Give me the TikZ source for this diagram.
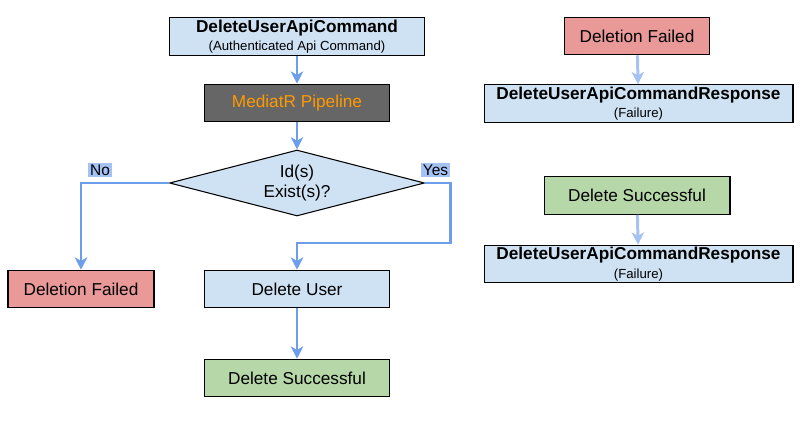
\documentclass[tikz,border=0pt]{standalone}
\usepackage{fontspec}
\setmainfont{Liberation Sans}
\usetikzlibrary{shapes.geometric,arrows.meta,positioning}
\definecolor{cmdblue}{HTML}{CFE2F3}
\definecolor{failred}{HTML}{EA9999}
\definecolor{okgreen}{HTML}{B6D7A8}
\definecolor{flowblue}{HTML}{6D9EEB}
\definecolor{paleblue}{HTML}{A4C2F4}
\definecolor{pipegray}{HTML}{666666}
\definecolor{pipeorange}{HTML}{FF9900}
\tikzset{
	box/.style={draw=black,line width=0.6pt,minimum height=0.75cm,inner sep=1pt,align=center,font=\fontsize{9.8}{11.5}\selectfont},
	cmdbox/.style={box,fill=cmdblue},
	failbox/.style={box,fill=failred},
	okbox/.style={box,fill=okgreen},
	pipebox/.style={box,fill=pipegray,text=pipeorange},
	decision/.style={diamond,aspect=3.86,draw=black,line width=0.6pt,fill=cmdblue,inner sep=0pt,minimum width=5.1cm,minimum height=1.32cm,align=center,font=\fontsize{9.8}{11.5}\selectfont},
	flow/.style={-{Stealth[length=7pt,width=7pt,inset=2pt]},color=flowblue,line width=1.7pt},
	paleflow/.style={-{Stealth[length=7pt,width=7pt,inset=2pt]},color=paleblue,line width=1.7pt},
	branch/.style={fill=paleblue,inner sep=1pt,font=\fontsize{8.8}{10}\selectfont}
}
\newcommand{\cmdtitle}[2]{{\bfseries #1}\\[-1pt]{\fontsize{7.5}{8.5}\selectfont #2}}
\begin{document}
\begin{tikzpicture}[x=0.02cm,y=-0.02cm]
	\useasboundingbox (0,0) rectangle (804,425);
	%%% main flow
	\node[cmdbox,minimum width=5.1cm] (cmd) at (297,36.5) {\cmdtitle{DeleteUserApiCommand}{(Authenticated Api Command)}};
	\node[pipebox,minimum width=3.7cm] (pipe) at (297,103) {MediatR Pipeline};
	\node[decision] (exists) at (297,183) {Id(s)\\Exist(s)?};
	\node[failbox,minimum width=2.92cm] (failed) at (81,289) {Deletion Failed};
	\node[cmdbox,minimum width=3.7cm] (user) at (297,289) {Delete User};
	\node[okbox,minimum width=3.7cm] (success) at (297,378) {Delete Successful};

	\node[branch] (no) at (100,170) {No};
	\node[branch] (yes) at (435.5,170) {Yes};
	\coordinate (yesbend) at (450,243);

	\draw[flow] (cmd) -- (pipe);
	\draw[flow] (pipe) -- (exists);
	\draw[flow] (exists.west) -| (failed.north);
	\draw[flow] (exists.east) -| (yesbend) -| (user.north);
	\draw[flow] (user) -- (success);

	%%% responses
	\node[failbox,minimum width=2.9cm] (rfailed) at (637,36) {Deletion Failed};
	\node[cmdbox,minimum width=6.18cm] (rfailresp) at (638.5,103.5) {\cmdtitle{DeleteUserApiCommandResponse}{(Failure)}};
	\node[okbox,minimum width=3.72cm] (rsuccess) at (637,195.5) {Delete Successful};
	\node[cmdbox,minimum width=6.18cm] (roresp) at (638.5,264) {\cmdtitle{DeleteUserApiCommandResponse}{(Failure)}};

	\draw[paleflow] (rfailed) -- (rfailresp);
	\draw[paleflow] (rsuccess) -- (roresp);
\end{tikzpicture}
\end{document}
